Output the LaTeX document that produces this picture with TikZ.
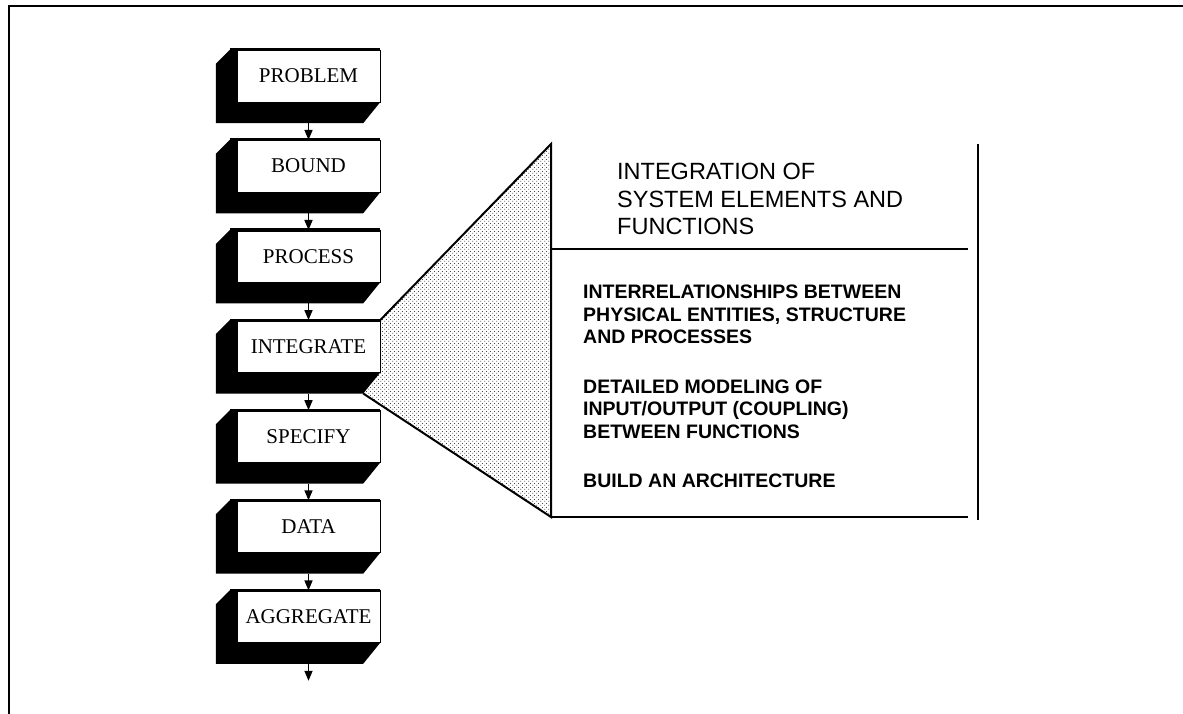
\documentclass[tikz,border=0pt]{standalone}
\usepackage{fontspec}
\setmainfont{Liberation Serif}
\setsansfont{Liberation Sans}
\usetikzlibrary{arrows.meta, positioning, patterns}
\pgfdeclarepatternformonly{stipple}{\pgfpointorigin}{\pgfpoint{4pt}{4pt}}{\pgfpoint{4pt}{4pt}}{%
    \pgfpathcircle{\pgfpoint{1pt}{1pt}}{0.6pt}%
    \pgfpathcircle{\pgfpoint{3pt}{3pt}}{0.6pt}%
    \pgfusepath{fill}}
\tikzset{
    stage/.style={
        draw, thin, fill=white,
        inner sep=0pt,
        minimum width=143pt,
        minimum height=52pt,
        font=\fontsize{21}{25}\selectfont
    },
    flow/.style={
        line width=1.5pt,
        -{Triangle[width=8pt, length=10pt]},
    },
    rim/.style={line width=2pt},
    zoomfill/.style={pattern=stipple, pattern color=black},
    heading/.style={anchor=north west, inner sep=0pt, align=left,
        font=\sffamily\fontsize{23.5}{27.5}\selectfont},
    notes/.style={anchor=north west, inner sep=0pt, align=left,
        font=\sffamily\bfseries\fontsize{19.5}{22.5}\selectfont},
}
\begin{document}
\begin{tikzpicture}[x=1pt, y=1pt]
        \useasboundingbox (0,0) rectangle (1183,-714);
        \draw[rim] (9,-714) -- (9,-6) -- (1183,-6);

        \node[stage] (s1) at (308.5,-76) {PROBLEM};
        \node[stage, below=37.7pt of s1] (s2) {BOUND};
        \node[stage, below=37.7pt of s2] (s3) {PROCESS};
        \node[stage, below=37.7pt of s3] (s4) {INTEGRATE};
        \node[stage, below=37.7pt of s4] (s5) {SPECIFY};
        \node[stage, below=37.7pt of s5] (s6) {DATA};
        \node[stage, below=37.7pt of s6] (s7) {AGGREGATE};

        % block shadows
        \foreach \n in {1,...,7} {
            \fill ([xshift=-7pt]s\n.north west) -- ++(-14,-14)
                -- ([shift={(-21pt,-21pt)}]s\n.south west)
                -- ([shift={(-17pt,-21pt)}]s\n.south east)
                -- (s\n.south east) -- (s\n.south west) -- (s\n.north west) -- cycle;
            \draw[line width=3pt] ([xshift=-7pt]s\n.north west) -- (s\n.north east);
        }

        \foreach \a/\b in {1/2, 2/3, 3/4, 4/5, 5/6, 6/7}
            \draw[flow] ([yshift=-21pt]s\a.south) -- (s\b.north);
        \coordinate (out) at ([yshift=-38pt]s7.south);
        \draw[flow] ([yshift=-21pt]s7.south) -- (out);

        % zoomed panel
        \coordinate (ptop) at (551,-144);
        \coordinate (pbot) at (551,-517);
        \coordinate (kink) at ([shift={(-17pt,-21pt)}]s4.south east);
        \fill[zoomfill] (s4.north east) -- (ptop) -- (pbot) -- (kink) -- (s4.south east) -- cycle;
        \draw[rim] (s4.north east) -- (ptop) -- (pbot) -- (kink);
        \draw[rim] (pbot) -- (968,-517);
        \draw[line width=1.5pt] (551,-249) -- (968,-249);
        \draw[rim] (978,-144) -- (978,-520);

        \node[heading] (head) at (617,-163) {INTEGRATION OF\\SYSTEM ELEMENTS AND\\FUNCTIONS};
        \node[notes] (body) at (583,-285) {INTERRELATIONSHIPS BETWEEN\\PHYSICAL ENTITIES, STRUCTURE\\AND PROCESSES\\[27pt]DETAILED MODELING OF\\INPUT/OUTPUT (COUPLING)\\BETWEEN FUNCTIONS\\[27pt]BUILD AN ARCHITECTURE};
    \end{tikzpicture}
\end{document}
